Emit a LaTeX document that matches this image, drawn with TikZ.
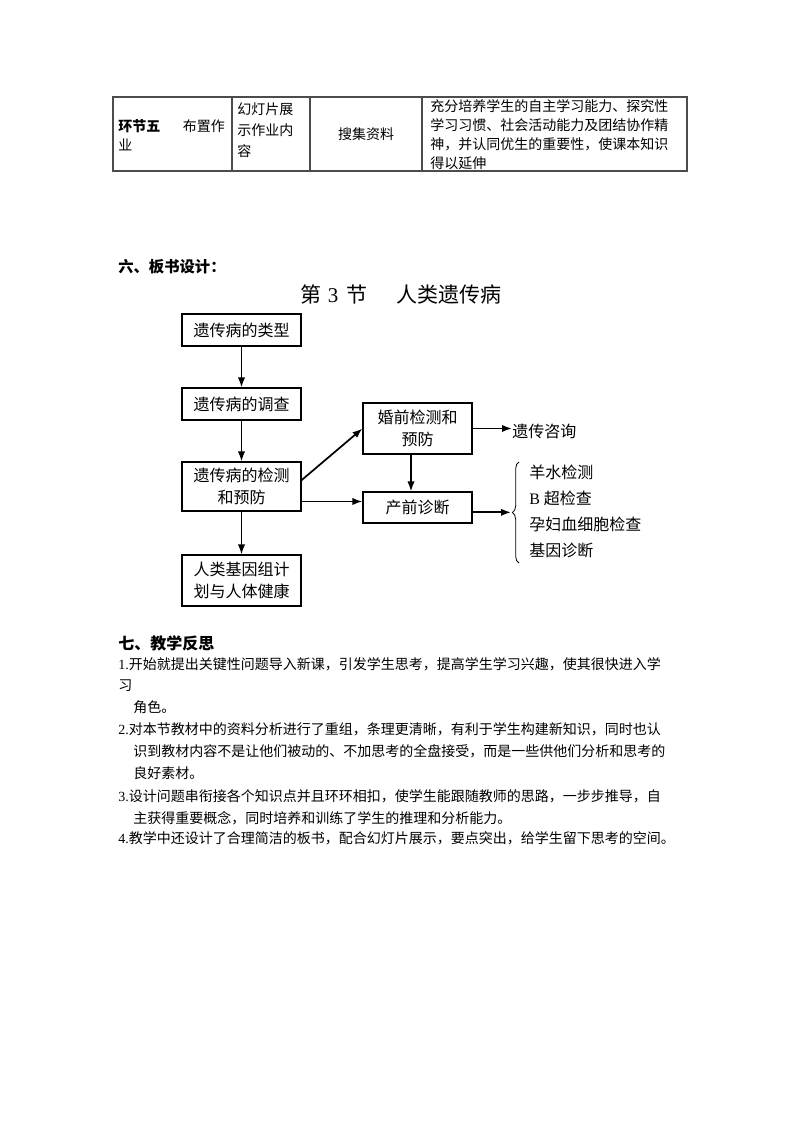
\documentclass[tikz,border=0pt]{standalone}
\usepackage{fontspec}
\setmainfont{Noto Sans CJK SC}
\newfontfamily\lat{Liberation Serif}
\usetikzlibrary{arrows.meta,decorations.pathreplacing}

\begin{document}
\begin{tikzpicture}[x=0.75pt,y=-0.75pt]
	\tikzstyle{box}=[draw=black,line width=0.8pt,inner sep=0pt,align=center,font=\fontsize{12pt}{16.5pt}\selectfont]
	\tikzstyle{arr}=[-{Latex[length=7.5pt,width=5.5pt]},line width=1.3pt]
	\tikzstyle{cell}=[anchor=west,inner sep=0pt,align=left,font=\fontsize{10.5pt}{14.25pt}\selectfont]
	\tikzstyle{txt}=[anchor=west,inner sep=0pt,font=\fontsize{10.5pt}{14pt}\selectfont]
	\tikzstyle{item}=[anchor=west,inner sep=0pt,font=\fontsize{12pt}{14pt}\selectfont]
	\tikzstyle{grid}=[line width=0.9pt,draw=black!70]

	\def \px{0.75pt}

	\useasboundingbox[fill=white] (0,0) rectangle (800,1132);

	% table row
	\draw[grid] (113,97) rectangle (687,171);
	\foreach \xx in {232,310,422}
		\draw[grid] (\xx,97) -- (\xx,171);

	\node[cell] 	(c1)	at (118,135.5)	{\textbf{环节五}\hspace{17pt}布置作\\业};
	\node[cell,font=\fontsize{10.5pt}{15.75pt}\selectfont] 	(c2)	at (237,130)	{幻灯片展\\示作业内\\容};
	\node[cell,anchor=center] 	(c3)	at (366,134)	{搜集资料};
	\node[cell] 	(c4)	at (430,134.5)	{充分培养学生的自主学习能力、探究性\\学习习惯、社会活动能力及团结协作精\\神，并认同优生的重要性，使课本知识\\得以延伸};

	\node[anchor=west,inner sep=0pt,font=\fontsize{11.5pt}{14pt}\selectfont\bfseries] 	(h6)	at (118,267)	{六、板书设计：};
	\node[anchor=west,inner sep=0pt,font=\fontsize{15.75pt}{18pt}\selectfont] 	(title)	at (300,294)	{第\hspace{5pt}{\lat 3}\hspace{6pt}节\hspace{22pt}人类遗传病};

	% left column
	\node[box,minimum width=119*\px,minimum height=32*\px] 	(type)		at (241.5,330)		{遗传病的类型};
	\node[box,minimum width=119*\px,minimum height=32*\px] 	(survey)	at (241.5,404)		{遗传病的调查};
	\node[box,minimum width=119*\px,minimum height=49*\px] 	(detect)	at (241.5,486.5)	{遗传病的检测\\和预防};
	\node[box,minimum width=119*\px,minimum height=51*\px] 	(genome)	at (241.5,580.5)	{人类基因组计\\划与人体健康};

	% right column
	\node[box,minimum width=109*\px,minimum height=51*\px] 	(premar)	at (417.5,428.5)	{婚前检测和\\预防};
	\node[box,minimum width=109*\px,minimum height=31*\px] 	(prenat)	at (417.5,507.5)	{产前诊断};
	\node[item] 	(consult)	at (512,431)	{遗传咨询};

	\draw[decorate,decoration={brace,amplitude=5pt},line width=0.6pt] (519,563) -- (519,462);
	\coordinate (tip) at (511,513);

	\node[item] 	(m1)	at (529,472)	{羊水检测};
	\node[item] 	(m2)	at (529,498)	{{\lat B}\hspace{3pt}超检查};
	\node[item] 	(m3)	at (529,524)	{孕妇血细胞检查};
	\node[item] 	(m4)	at (529,550)	{基因诊断};

	\draw[arr] (type) -- (survey);
	\draw[arr] (survey) -- (detect);
	\draw[arr] (detect) -- (genome);
	\draw[arr] (detect.6) -- (premar.west);
	\draw[arr] (detect.-14) -- (detect.-14 -| prenat.west);
	\draw[arr] (premar.-104) -- (premar.-104 |- prenat.north);
	\draw[arr] (premar.east) -- (premar.east -| consult.west);
	\draw[arr] (prenat.-5) -- (prenat.-5 -| tip);

	% reflection
	\node[anchor=west,inner sep=0pt,font=\fontsize{12pt}{14pt}\selectfont\bfseries] 	(h7)	at (118,643)	{七、教学反思};
	\node[txt] 	(r1a)	at (118,664)	{{\lat 1.}开始就提出关键性问题导入新课，引发学生思考，提高学生学习兴趣，使其很快进入学};
	\node[txt] 	(r1b)	at (118,686)	{习};
	\node[txt] 	(r1c)	at (133,707)	{角色。};
	\node[txt] 	(r2a)	at (118,729)	{{\lat 2.}对本节教材中的资料分析进行了重组，条理更清晰，有利于学生构建新知识，同时也认};
	\node[txt] 	(r2b)	at (133,751)	{识到教材内容不是让他们被动的、不加思考的全盘接受，而是一些供他们分析和思考的};
	\node[txt] 	(r2c)	at (133,773)	{良好素材。};
	\node[txt] 	(r3a)	at (118,796)	{{\lat 3.}设计问题串衔接各个知识点并且环环相扣，使学生能跟随教师的思路，一步步推导，自};
	\node[txt] 	(r3b)	at (133,818)	{主获得重要概念，同时培养和训练了学生的推理和分析能力。};
	\node[txt] 	(r4a)	at (118,838)	{{\lat 4.}教学中还设计了合理简洁的板书，配合幻灯片展示，要点突出，给学生留下思考的空间。};
\end{tikzpicture}
\end{document}
